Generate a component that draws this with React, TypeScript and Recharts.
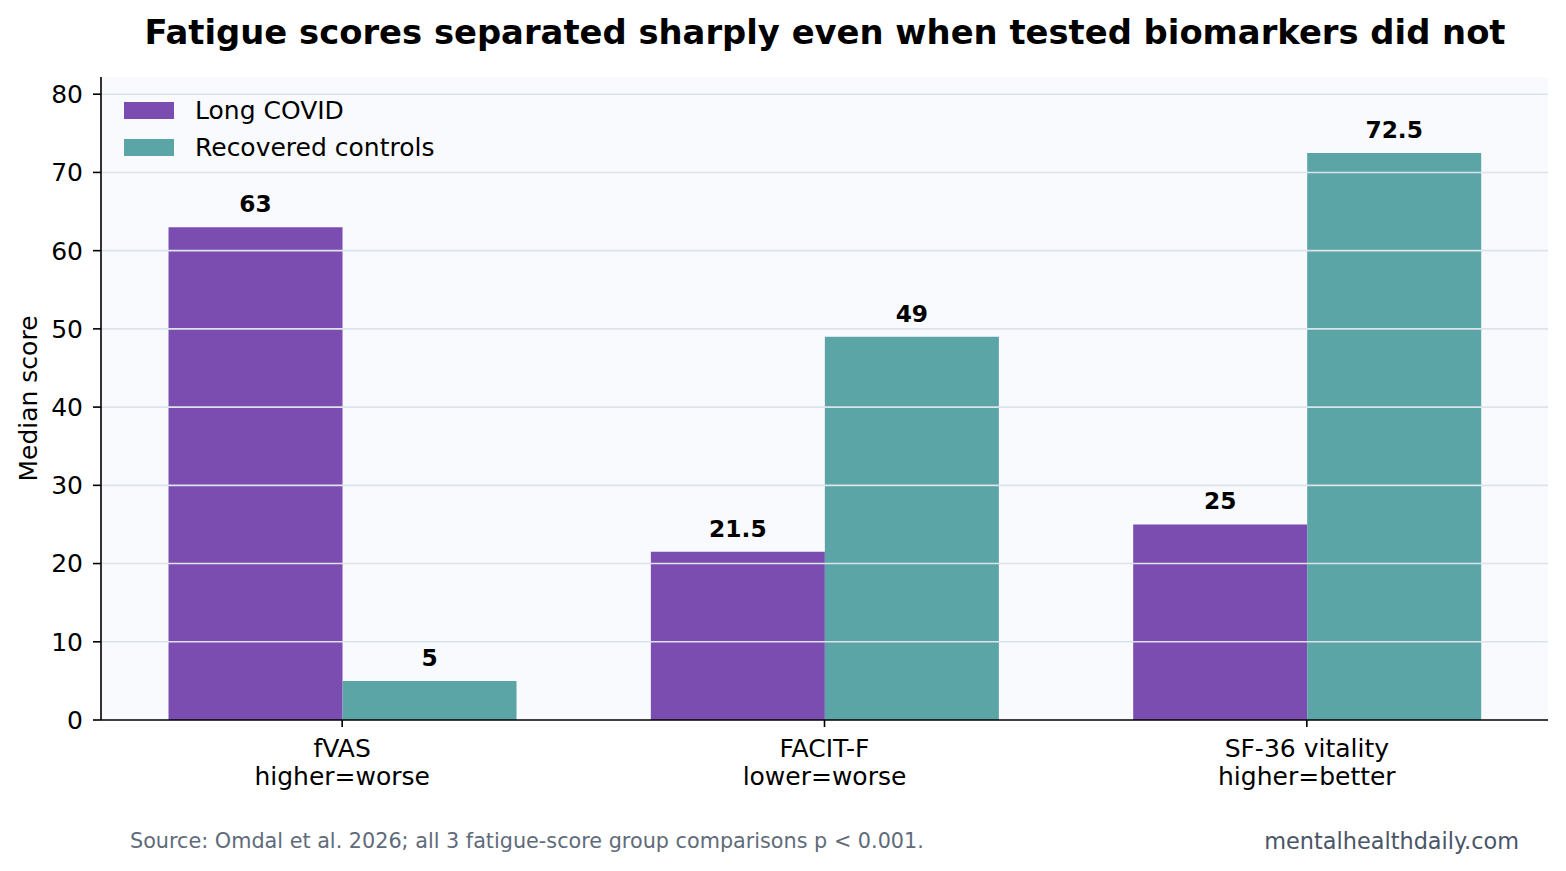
import React from 'react';
import { BarChart, Bar, XAxis, YAxis, CartesianGrid, Legend, LabelList, ReferenceLine } from 'recharts';

const categories = ['fVAS', 'FACIT-F', 'SF-36 vitality'];
const directions = ['higher=worse', 'lower=worse', 'higher=better'];
const longCovid = [63, 21.5, 25];
const controls = [5, 49, 72.5];
const yTicks = [0, 10, 20, 30, 40, 50, 60, 70, 80];

const data = categories.map((name, i) => ({
  name,
  direction: directions[i],
  longCovid: longCovid[i],
  controls: controls[i],
}));

const PURPLE = '#7b4db0';
const TEAL = '#5ba5a7';
const FONT = '"DejaVu Sans", sans-serif';

const CategoryTick = (props: any) => {
  const { x, y, payload } = props;
  const sub = directions[payload.index] ?? '';
  return (
    <g>
      <text x={x} y={y + 30} textAnchor="middle" fontSize={25} fill="#000" fontFamily={FONT}>
        {payload.value}
      </text>
      <text x={x} y={y + 58} textAnchor="middle" fontSize={25} fill="#000" fontFamily={FONT}>
        {sub}
      </text>
    </g>
  );
};

const LegendBox = () => (
  <div style={{ fontFamily: FONT, fontSize: 25, color: '#000', lineHeight: '37px' }}>
    {[
      { label: 'Long COVID', color: PURPLE },
      { label: 'Recovered controls', color: TEAL },
    ].map((item) => (
      <div key={item.label} style={{ display: 'flex', alignItems: 'center', height: 37 }}>
        <span style={{ width: 50, height: 17, background: item.color, marginRight: 21, flex: 'none' }} />
        <span style={{ whiteSpace: 'nowrap' }}>{item.label}</span>
      </div>
    ))}
  </div>
);

export default function App() {
  return (
    <div style={{ position: 'relative', width: 1566, height: 871, margin: '-8px 0 0 -8px', background: '#fff' }}>
      <BarChart
        width={1566}
        height={871}
        data={data}
        margin={{ top: 77, right: 18, left: 0, bottom: 91 }}
        barCategoryGap="14%"
        barGap={0}
      >
        <CartesianGrid horizontal={false} vertical={false} fill="#f9fafd" />
        <XAxis
          dataKey="name"
          height={60}
          tick={<CategoryTick />}
          tickSize={7}
          tickMargin={0}
          axisLine={{ stroke: '#000', strokeWidth: 1.6 }}
          tickLine={{ stroke: '#000', strokeWidth: 1.6 }}
          interval={0}
        />
        <YAxis
          width={101}
          domain={[0, 82.2]}
          ticks={yTicks}
          tickSize={8}
          tickMargin={10}
          axisLine={{ stroke: '#000', strokeWidth: 1.6 }}
          tickLine={{ stroke: '#000', strokeWidth: 1.6 }}
          tick={{ fontSize: 25, fill: '#000', fontFamily: FONT }}
          allowDataOverflow
          label={{
            value: 'Median score',
            angle: -90,
            position: 'insideLeft',
            offset: 0,
            dx: 28,
            style: { fontSize: 25, fill: '#000', fontFamily: FONT, textAnchor: 'middle' },
          }}
        />
        <Legend
          verticalAlign="middle"
          align="center"
          layout="horizontal"
          content={<LegendBox />}
          wrapperStyle={{ top: 92, left: 124, width: 'auto', height: 'auto' }}
        />
        <Bar dataKey="longCovid" name="Long COVID" fill={PURPLE} isAnimationActive={false}>
          <LabelList
            dataKey="longCovid"
            position="top"
            offset={15}
            style={{ fontSize: 23.3, fontWeight: 'bold', fill: '#000', fontFamily: FONT }}
          />
        </Bar>
        <Bar dataKey="controls" name="Recovered controls" fill={TEAL} isAnimationActive={false}>
          <LabelList
            dataKey="controls"
            position="top"
            offset={15}
            style={{ fontSize: 23.3, fontWeight: 'bold', fill: '#000', fontFamily: FONT }}
          />
        </Bar>
        {yTicks.slice(1).map((t) => (
          <ReferenceLine key={t} y={t} stroke="#dde3ea" strokeWidth={1.6} />
        ))}
      </BarChart>
      <svg
        width={1566}
        height={871}
        style={{ position: 'absolute', left: 0, top: 0, pointerEvents: 'none' }}
      >
        <text x={825} y={44} textAnchor="middle" fontSize={33.8} fontWeight="bold" fill="#000" fontFamily={FONT}>
          Fatigue scores separated sharply even when tested biomarkers did not
        </text>
        <text x={130} y={848} fontSize={20.75} fill="#5f6b7a" fontFamily={FONT}>
          Source: Omdal et al. 2026; all 3 fatigue-score group comparisons p &lt; 0.001.
        </text>
        <text x={1519} y={849} textAnchor="end" fontSize={22.4} fill="#4a5568" fontFamily={FONT}>
          mentalhealthdaily.com
        </text>
      </svg>
    </div>
  );
}
